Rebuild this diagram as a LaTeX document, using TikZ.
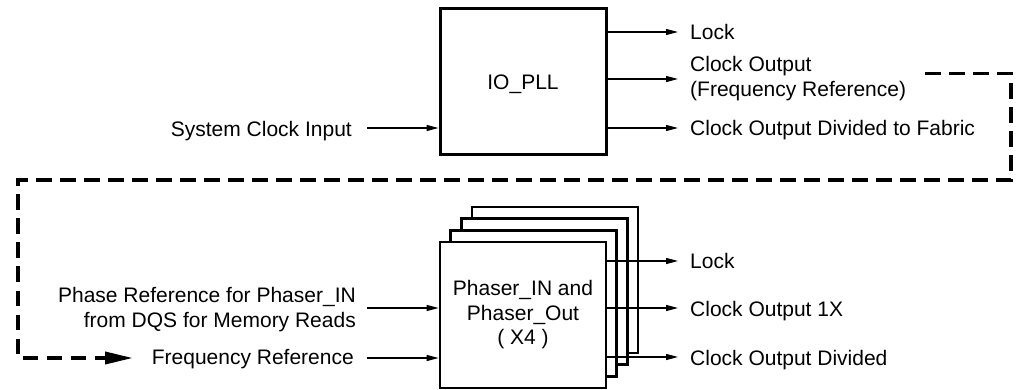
\documentclass[tikz,border=0pt]{standalone}
\usepackage{fontspec}
\setmainfont{Liberation Sans}
\usetikzlibrary{arrows.meta,calc}
\begin{document}
\begin{tikzpicture}[x=1pt,y=-1pt,
  font=\fontsize{21}{24.5}\selectfont,
  box/.style={draw,line width=2.7pt,fill=white,inner sep=0pt,minimum width=166pt,minimum height=146pt},
  arr/.style={line width=1.2pt,-{Triangle[length=12pt,width=6pt]}},
  fbdash/.style={line width=3.8pt,dash pattern=on 15.5pt off 8.5pt,-{Triangle[length=28pt,width=12pt]}},
  lbl/.style={inner sep=0pt}]
\useasboundingbox (0,0) rectangle (1020,390);

% IO_PLL
\node[box,line width=3pt,text depth=0pt] (pll) at (523,82) {IO\_PLL};

% IO_PLL labels
\node[lbl,anchor=base east] (sci) at (352,137) {System Clock Input};
\node[lbl,anchor=base west] (lk1) at (690,40) {Lock};
\node[lbl,anchor=west,align=left] (cko) at (690,78.8) {Clock Output\\(Frequency Reference)};
\node[lbl,anchor=base west] (ckd) at (690,136) {Clock Output Divided to Fabric};

\coordinate (sciA) at (367,128);
\draw[arr] (sciA) -- (sciA -| pll.west);
\coordinate (o1) at (678,32);
\coordinate (o2) at (678,79);
\coordinate (o3) at (678,128);
\draw[arr] (o1 -| pll.east) -- (o1);
\draw[arr] (o2 -| pll.east) -- (o2);
\draw[arr] (o3 -| pll.east) -- (o3);

% Phaser stack
\foreach \k in {3,2,1}
  \node[box] (ph\k) at ({523+10.7*\k},{315-11.7*\k}) {};
\node[box,align=center] (ph) at (523,315) {Phaser\_IN and\\Phaser\_Out\\( X4 )};

% Phaser labels
\node[lbl,anchor=east,align=right] (pref) at (356,309.5) {Phase Reference for Phaser\_IN\\from DQS for Memory Reads};
\node[lbl,anchor=base east] (fref) at (354,364) {Frequency Reference};
\node[lbl,anchor=base west] (lk2) at (690,268) {Lock};
\node[lbl,anchor=base west] (c1x) at (690,316.5) {Clock Output 1X};
\node[lbl,anchor=base west] (cdv) at (690,365) {Clock Output Divided};

\coordinate (i1) at (367,308);
\coordinate (i2) at (367,358);
\draw[arr] (i1) -- (i1 -| ph.west);
\draw[arr] (i2) -- (i2 -| ph.west);
\coordinate (p1) at (678,261);
\coordinate (p2) at (678,308);
\coordinate (p3) at (678,357);
\draw[arr] (p1 -| ph.east) -- (p1);
\draw[arr] (p2 -| ph.east) -- (p2);
\draw[arr] (p3 -| ph.east) -- (p3);

% dashed feedback path
\coordinate (dS) at (925,73.5);
\coordinate (dE) at (133,358);
\draw[fbdash] (dS) -- (1011,73.5) -- (1011,180) -- (18,180) -- (18,358) -- (dE);
\end{tikzpicture}
\end{document}
